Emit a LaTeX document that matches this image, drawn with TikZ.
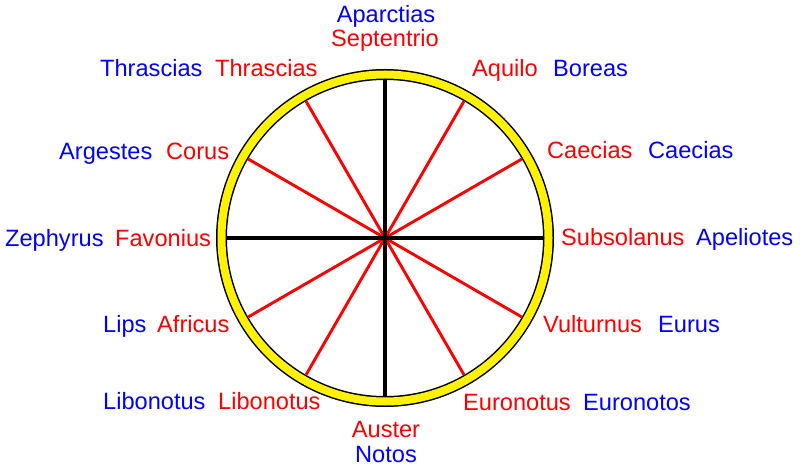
\documentclass[tikz,border=0pt]{standalone}
\usepackage{fontspec}
\setmainfont{Liberation Sans}
\begin{document}
\begin{tikzpicture}[x=1bp,y=-1bp,
  lbl/.style={inner sep=0pt,anchor=base west,font=\fontsize{23.6bp}{28bp}\selectfont},
  lblc/.style={lbl,anchor=base},
  lr/.style={lbl,text=red},
  lb/.style={lbl,text=blue},
  lrc/.style={lblc,text=red},
  lbc/.style={lblc,text=blue},
  redspoke/.style={red,line width=2.9bp},
  blackspoke/.style={black,line width=3.1bp}]
\useasboundingbox (0,0) rectangle (800,467);
\coordinate (c) at (385,238);
% ring
\draw[line width=11bp,black] (c) circle[radius=163.5];
\draw[line width=8bp,yellow] (c) circle[radius=163.5];
% spokes
\foreach \a in {30,60,120,150,210,240,300,330}
  \draw[redspoke] (c) -- ++(\a:158) coordinate (r\a);
\foreach \a in {0,90,180,270}
  \draw[blackspoke] (c) -- ++(\a:158) coordinate (b\a);
% labels
\node[lbc] (n1) at (386,23) {Aparctias};
\node[lrc] (n2) at (385,47) {Septentrio};
\node[lb] (nw1) at (100,77) {Thrascias};
\node[lr] (nw2) at (215,77) {Thrascias};
\node[lr] (ne1) at (472,77) {Aquilo};
\node[lb] (ne2) at (553,77) {Boreas};
\node[lb] (w1) at (59,160) {Argestes};
\node[lr] (w2) at (166,160) {Corus};
\node[lr] (e1) at (547,159) {Caecias};
\node[lb] (e2) at (648,159) {Caecias};
\node[lb] (z1) at (5,247) {Zephyrus};
\node[lr] (z2) at (115,247) {Favonius};
\node[lr] (s1) at (561,246) {Subsolanus};
\node[lb] (s2) at (696,246) {Apeliotes};
\node[lb] (l1) at (103,333) {Lips};
\node[lr] (l2) at (157,333) {Africus};
\node[lr] (v1) at (543,333) {Vulturnus};
\node[lb] (v2) at (658,333) {Eurus};
\node[lb] (lb1) at (103,409) {Libonotus};
\node[lr] (lb2) at (218,409) {Libonotus};
\node[lr] (eu1) at (463,410) {Euronotus};
\node[lb] (eu2) at (583,410) {Euronotos};
\node[lrc] (a1) at (386,437) {Auster};
\node[lbc] (a2) at (386,462) {Notos};
\end{tikzpicture}
\end{document}
